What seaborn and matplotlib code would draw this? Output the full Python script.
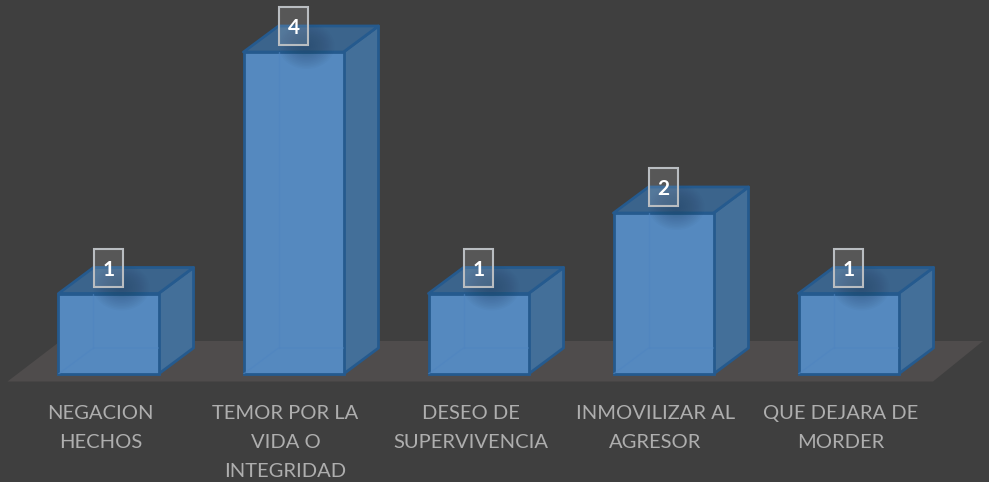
import numpy as np
import seaborn as sns
import matplotlib
matplotlib.use('Agg')
import matplotlib.pyplot as plt
from matplotlib.patches import Polygon, Ellipse, Rectangle
from matplotlib.transforms import ScaledTranslation

categories = ['NEGACION\nHECHOS', 'TEMOR POR LA\nVIDA O\nINTEGRIDAD', 'DESEO DE\nSUPERVIVENCIA',
              'INMOVILIZAR AL\nAGRESOR', 'QUE DEJARA DE\nMORDER']
values = [1, 4, 1, 2, 1]

BG = '#3f3f3f'
FLOOR = '#4f4c4c'
FRONT = '#5589bf'
SIDE = '#436f99'
TOP = '#3b648c'
EDGE = '#255a8e'
INNER = '#4f85c0'

sns.set_theme(style='white')
plt.rcParams['font.family'] = ['Lato', 'DejaVu Sans']

W, H = 989, 482
fig = plt.figure(figsize=(W / 100, H / 100), dpi=100, facecolor=BG)
ax = fig.add_axes([0, 108 / H, 1, 374 / H], facecolor='none')

sns.barplot(x=categories, y=values, color=FRONT, saturation=1, width=100 / 185,
            edgecolor=EDGE, linewidth=2, ax=ax, zorder=5)

PX_X = 1 / 185    # one pixel in category units
PX_Y = 1 / 80.5   # one pixel in value units
ax.set_xlim(-108.5 * PX_X, (W - 108.5) * PX_X)
ax.set_ylim(0, 374 * PX_Y)
dx, dy = 35 * PX_X, 26 * PX_Y

# floor
floor = Polygon([(-101 * PX_X, -7.5 * PX_Y), (-48 * PX_X, 33 * PX_Y),
                 ((983 - 108.5) * PX_X, 33 * PX_Y), ((933 - 108.5) * PX_X, -7.5 * PX_Y)],
                closed=True, fc=FLOOR, ec='none', zorder=1, clip_on=False)
ax.add_patch(floor)

for bar, v in zip(list(ax.patches)[:len(values)], values):
    bar.set_clip_on(False)
    x0 = bar.get_x()
    x1 = x0 + bar.get_width()
    h = bar.get_height()
    cx = (x0 + x1) / 2

    side = [(x1, 0), (x1 + dx, dy), (x1 + dx, h + dy), (x1, h)]
    top = [(x0, h), (x0 + dx, h + dy), (x1 + dx, h + dy), (x1, h)]
    ax.add_patch(Polygon(side, closed=True, fc=SIDE, ec=EDGE, lw=2, joinstyle='round',
                         zorder=4, clip_on=False))
    ax.add_patch(Polygon(top, closed=True, fc=TOP, ec=EDGE, lw=2, joinstyle='round',
                         zorder=4, clip_on=False))

    # faint back edges seen through the front face
    ax.plot([x0 + dx, x0 + dx], [dy, h], color=INNER, lw=1, alpha=0.6, zorder=6)
    ax.plot([x0, x0 + dx, x1], [0, dy, dy], color=INNER, lw=1, alpha=0.6, zorder=6)

    # soft shadow under the label
    for k in np.linspace(1, 0.15, 14):
        ax.add_patch(Ellipse((cx + 13 * PX_X, h + 6 * PX_Y), 56 * k * PX_X, 46 * k * PX_Y,
                             fc='#1f3f60', ec='none', alpha=0.035, zorder=7))

    # label box, 29 x 38 px
    ax.add_patch(Rectangle((cx - 14.5 * PX_X, h + 7 * PX_Y), 29 * PX_X, 38 * PX_Y,
                           fc=(1, 1, 1, 0.13), ec='#b9bdc1', lw=1.5, zorder=8))
    ax.text(cx, h + 26 * PX_Y, str(v), ha='center', va='center_baseline',
            color='white', fontsize=15, fontweight='bold', zorder=9)

ax.set_yticks([])
ax.tick_params(axis='x', length=0, pad=22.5, labelsize=14.5, labelcolor='#aeaeae')
shift = ScaledTranslation(-8 / 100, 0, fig.dpi_scale_trans)
for lab in ax.get_xticklabels():
    lab.set_linespacing(1.85)
    lab.set_transform(lab.get_transform() + shift)
sns.despine(ax=ax, left=True, bottom=True)
ax.set_xlabel('')
ax.set_ylabel('')

fig.savefig('out.png', dpi=100, facecolor=BG)
